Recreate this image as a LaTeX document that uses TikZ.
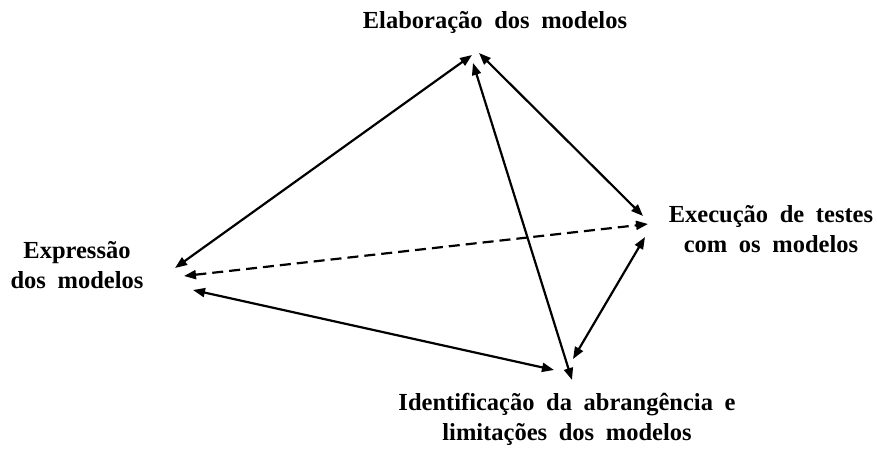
\documentclass[tikz,border=0pt]{standalone}
\usepackage{fontspec}
\setmainfont[WordSpace=1.9]{Liberation Serif}
\usetikzlibrary{arrows.meta}
\begin{document}
\begin{tikzpicture}[x=1pt,y=1pt,
  lbl/.style={font=\bfseries\fontsize{24.5}{30}\selectfont, align=center, inner sep=0pt, anchor=base},
  link/.style={line width=2.2pt, {Triangle[length=12pt,width=9pt]}-{Triangle[length=12pt,width=9pt]}},
  dlink/.style={link, dash pattern=on 11pt off 6pt}]
\useasboundingbox (0,0) rectangle (877,448);
% labels (base anchor = baseline of the last line)
\node[lbl] (elab) at (495,419) {Elaboração dos modelos};
\node[lbl] (exec) at (771,196) {Execução de testes\\com os modelos};
\node[lbl] (expr) at (77,160) {Expressão\\dos modelos};
\node[lbl] (iden) at (567,8) {Identificação da abrangência e\\limitações dos modelos};
% connector ends
\coordinate (a1s) at (175,180);
\coordinate (a1e) at (472,393);
\coordinate (a2s) at (479,395);
\coordinate (a2e) at (643,232);
\coordinate (a3s) at (572,68);
\coordinate (a3e) at (473,385);
\coordinate (a4s) at (645,211);
\coordinate (a4e) at (573,89);
\coordinate (a5s) at (193,158);
\coordinate (a5e) at (554,78);
\coordinate (a6s) at (184,172);
\coordinate (a6e) at (648,224);
\draw[link] (a1s) -- (a1e);
\draw[link] (a2s) -- (a2e);
\draw[link] (a3s) -- (a3e);
\draw[link] (a4s) -- (a4e);
\draw[link] (a5s) -- (a5e);
\draw[dlink] (a6s) -- (a6e);
\end{tikzpicture}
\end{document}
